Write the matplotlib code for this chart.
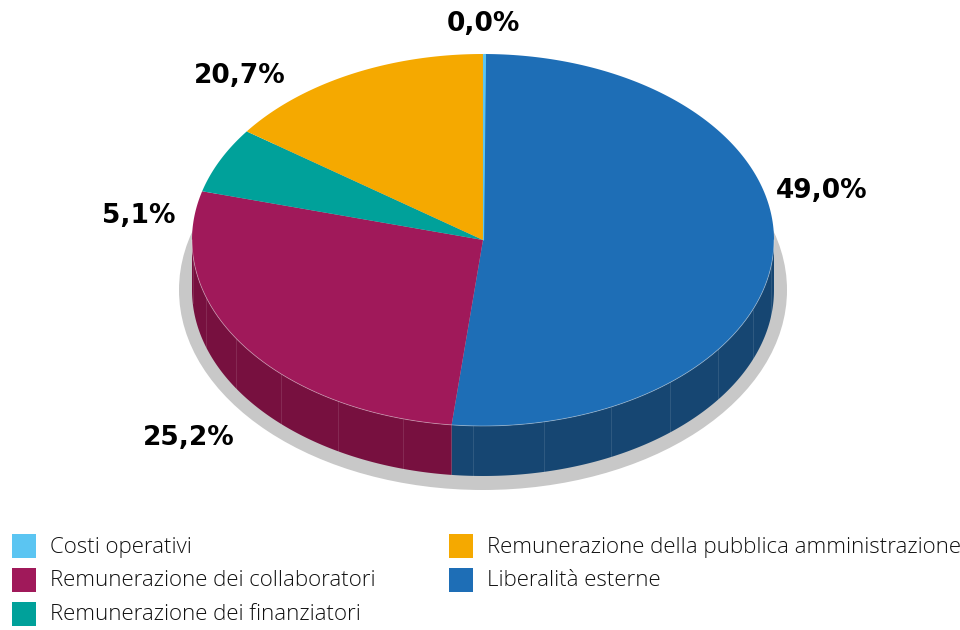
import numpy as np
import matplotlib.pyplot as plt
from matplotlib.patches import Polygon, Ellipse, Rectangle

# ---------- Data --------------------------------------------------------------------------------------------------------
# Slices in drawing order, clockwise from 12 o'clock.
categories = ['Costi operativi', 'Liberalità esterne', 'Remunerazione dei collaboratori',
              'Remunerazione dei finanziatori', 'Remunerazione della pubblica amministrazione']
shares = [0.12, 51.6, 27.5, 5.7, 15.08]               # slice sizes as drawn in the picture (%)
labels = ['0,0%', '49,0%', '25,2%', '5,1%', '20,7%']  # printed percentages

top_colors = ['#5bc5f2', '#1e6eb6', '#a0195a', '#00a19a', '#f5a900']
side_colors = ['#3c8fb3', '#164672', '#77103f', '#00716c', '#b07a00']

legend_order = ['Costi operativi', 'Remunerazione dei collaboratori', 'Remunerazione dei finanziatori',
                'Remunerazione della pubblica amministrazione', 'Liberalità esterne']

# ---------- Geometry (pixels) -------------------------------------------------------------------------------------------
cx, cy = 483, 240        # centre of the top face
ra, rb = 291, 186        # horizontal / vertical radius of the top face
depth = 50               # thickness of the pie

# label positions (pixel centres)
label_xy = [(483, 24), (822, 191), (189, 438), (139, 216), (240, 76)]

fig = plt.figure(figsize=(9.6, 6.3), dpi=100)
ax = fig.add_axes([0, 0, 1, 1])
ax.set_xlim(0, 960)
ax.set_ylim(630, 0)
ax.axis('off')


def ellipse_pts(t0, t1, dy=0, n=200):
    t = np.radians(np.linspace(t0, t1, n))
    return np.column_stack([cx + ra * np.sin(t), cy + dy - rb * np.cos(t)])


# shadow under the pie
ax.add_patch(Ellipse((cx, cy + depth), 2 * (ra + 13), 2 * (rb + 14), color='#c8c8c8', lw=0, zorder=1))

bounds = np.concatenate([[0], np.cumsum(shares)]) / np.sum(shares) * 360

# ---------- Sides (only the front half faces the viewer) ---------------------------------------------------------------
for i in range(len(shares)):
    t0, t1 = max(bounds[i], 90), min(bounds[i + 1], 270)
    if t1 <= t0:
        continue
    top = ellipse_pts(t0, t1)
    bot = ellipse_pts(t0, t1, dy=depth)[::-1]
    ax.add_patch(Polygon(np.vstack([top, bot]), closed=True, fc=side_colors[i], ec='none', zorder=2))
    # faint facet lines on the wall
    for t in np.arange(np.ceil(t0 / 14) * 14, t1, 14):
        p = ellipse_pts(t, t, n=1)[0]
        ax.plot([p[0], p[0]], [p[1], p[1] + depth], color='white', lw=0.5, alpha=0.15, zorder=3)

# ---------- Top faces ---------------------------------------------------------------------------------------------------
for i in range(len(shares)):
    arc = ellipse_pts(bounds[i], bounds[i + 1])
    ax.add_patch(Polygon(np.vstack([[cx, cy], arc]), closed=True, fc=top_colors[i],
                         ec=top_colors[i] if i == 0 else 'none', lw=0.8, zorder=4 + (i == 0)))

# light rim along the front edge
rim = ellipse_pts(90, 270)
ax.plot(rim[:, 0], rim[:, 1], color='white', lw=0.6, alpha=0.4, zorder=5)

# ---------- Labels ------------------------------------------------------------------------------------------------------
for txt, (x, y) in zip(labels, label_xy):
    ax.text(x, y, txt, ha='center', va='center', fontsize=19, fontweight='bold',
            family='DejaVu Sans', color='black', zorder=6)

# ---------- Legend ------------------------------------------------------------------------------------------------------
col_x = [12, 449]
row_y = [546, 580, 614]
for k, name in enumerate(legend_order):
    col, row = (0, k) if k < 3 else (1, k - 3)
    c = top_colors[categories.index(name)]
    ax.add_patch(Rectangle((col_x[col], row_y[row] - 12), 24, 24, fc=c, ec='none'))
    ax.text(col_x[col] + 38, row_y[row] + 1, name, ha='left', va='center', fontsize=16,
            family='Open Sans', fontweight='light', color='#111111')

fig.savefig('out.png', dpi=100)
